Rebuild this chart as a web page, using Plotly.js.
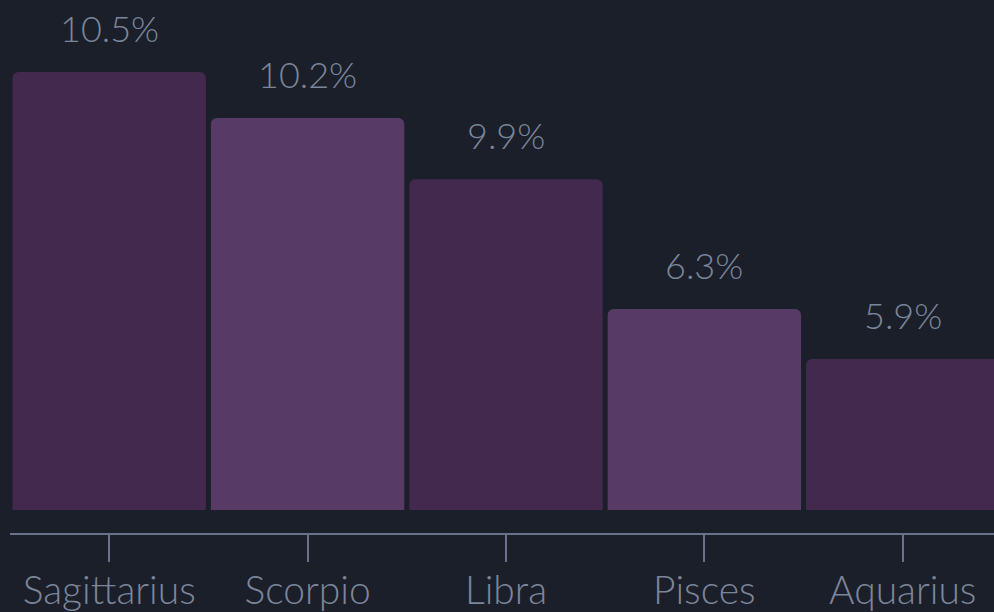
<!DOCTYPE html>
<html>
<head>
<meta charset="utf-8">
<script src="https://cdn.plot.ly/plotly-3.0.1.min.js"></script>
<style>
  html, body { margin: 0; padding: 0; background: #1b1f2a; overflow: hidden; }
  #chart { width: 994px; height: 612px; }
</style>
</head>
<body>
<div id="chart"></div>
<script>
// signs, share labels and bar heights (relative index)
const signs = ['Sagittarius', 'Scorpio', 'Libra', 'Pisces', 'Aquarius'];
const shareLabels = ['10.5%', '10.2%', '9.9%', '6.3%', '5.9%'];
const barValues = [10.5, 9.4, 7.93, 4.82, 3.62];
const barColors = ['#42294d', '#583a66', '#42294d', '#583a66', '#42294d'];

const textColor = '#7c869b';
const font = { family: 'Lato, Inter, "Open Sans", sans-serif', size: 36, color: textColor, weight: 300 };

const bars = {
  type: 'bar',
  x: signs,
  y: barValues,
  marker: { color: barColors, cornerradius: 6, line: { width: 0 } },
  hoverinfo: 'skip'
};

// percentage labels above each bar
const labels = signs.map((s, i) => ({
  x: s,
  y: barValues[i],
  text: shareLabels[i],
  showarrow: false,
  yanchor: 'bottom',
  yshift: 20,
  font: font
}));

const layout = {
  width: 994,
  height: 612,
  margin: { l: 10, r: 0, t: 0, b: 79 },
  paper_bgcolor: '#1b1f2a',
  plot_bgcolor: '#1b1f2a',
  bargap: 0.025,
  showlegend: false,
  font: font,
  xaxis: {
    range: [-0.5, 4.46],
    showline: true,
    linecolor: '#697288',
    linewidth: 2,
    ticks: 'outside',
    ticklen: 27,
    tickwidth: 2,
    tickcolor: '#697288',
    ticklabelstandoff: -5,
    showgrid: false,
    tickfont: Object.assign({}, font, { size: 39 }),
    fixedrange: true
  },
  yaxis: {
    range: [-0.551, 12.226],
    visible: false,
    showgrid: false,
    zeroline: false,
    fixedrange: true
  },
  annotations: labels
};

Plotly.newPlot('chart', [bars], layout, { displayModeBar: false, staticPlot: true });
</script>
</body>
</html>
